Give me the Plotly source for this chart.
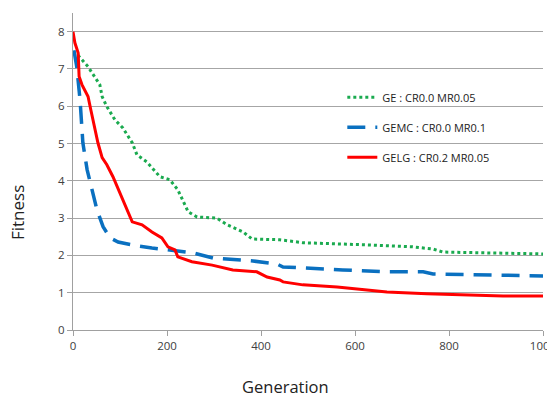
import plotly.graph_objects as go

ge_x = [0, 8, 32, 57, 62, 72, 89, 106, 126, 136, 157, 185, 206, 223, 245, 264, 306, 328, 362, 381, 440, 489, 632, 723, 766, 787, 1000]
ge_y = [7.45, 7.4, 7.06, 6.58, 6.26, 5.99, 5.64, 5.42, 5.02, 4.70, 4.51, 4.11, 4.03, 3.76, 3.17, 3.03, 3.0, 2.82, 2.63, 2.44, 2.42, 2.34, 2.28, 2.23, 2.17, 2.09, 2.04]

gemc_x = [2, 8, 15, 21, 30, 40, 51, 64, 79, 96, 126, 168, 217, 255, 298, 383, 434, 447, 574, 668, 745, 766, 1000]
gemc_y = [7.5, 7.06, 6.17, 5.02, 4.3, 3.76, 3.22, 2.77, 2.47, 2.36, 2.28, 2.2, 2.12, 2.07, 1.93, 1.85, 1.77, 1.69, 1.61, 1.56, 1.56, 1.50, 1.45]

gelg_x = [0, 4, 11, 13, 19, 32, 38, 47, 53, 62, 72, 85, 94, 104, 115, 126, 147, 168, 189, 202, 217, 223, 253, 296, 340, 391, 413, 440, 447, 489, 562, 632, 668, 753, 915, 1000]
gelg_y = [8.0, 7.7, 7.43, 6.8, 6.58, 6.26, 5.9, 5.37, 5.02, 4.62, 4.43, 4.11, 3.84, 3.57, 3.22, 2.9, 2.82, 2.63, 2.47, 2.23, 2.15, 1.96, 1.83, 1.74, 1.61, 1.56, 1.42, 1.34, 1.29, 1.21, 1.15, 1.07, 1.02, 0.97, 0.91, 0.91]

names = ["GE : CR0.0 MR0.05", "GEMC : CR0.0 MR0.1", "GELG : CR0.2 MR0.05"]
x_ticks = [0, 200, 400, 600, 800, 1000]
y_ticks = [0, 1, 2, 3, 4, 5, 6, 7, 8]
x_title = "Generation"
y_title = "Fitness"

fig = go.Figure()
fig.add_trace(go.Scatter(x=ge_x, y=ge_y, mode="lines", name=names[0], legendgroup="a",
                         line=dict(color="#1AAA4F", width=3, dash="dot")))
fig.add_trace(go.Scatter(x=gemc_x, y=gemc_y, mode="lines", name=names[1], legendgroup="b",
                         line=dict(color="#0A70C0", width=3.5, dash="18px,10px")))
fig.add_trace(go.Scatter(x=gelg_x, y=gelg_y, mode="lines", name=names[2], legendgroup="c",
                         line=dict(color="#FF0000", width=3)))

font = "Open Sans, Liberation Sans, sans-serif"
fig.update_layout(
    width=547, height=386,
    margin=dict(l=65, r=12, t=5, b=64),
    plot_bgcolor="white", paper_bgcolor="white",
    font=dict(family=font, color="#404040", size=11),
    legend=dict(x=0.573, y=0.78, xanchor="left", yanchor="top",
                bgcolor="rgba(0,0,0,0)", font=dict(size=11, color="#222222"),
                tracegroupgap=11),
    xaxis=dict(range=[0, 1000], tickvals=x_ticks, showgrid=False, zeroline=False,
               showline=True, linecolor="#a0a0a0", linewidth=1, automargin=False,
               ticks="outside", ticklen=5, tickcolor="#a0a0a0", ticklabeloverflow="allow",
               tickfont=dict(size=11.5)),
    yaxis=dict(range=[0, 8.5], tickvals=y_ticks, showgrid=True, gridcolor="#a6a6a6", gridwidth=1,
               zeroline=False, showline=True, linecolor="#a0a0a0", linewidth=1, automargin=False,
               ticks="outside", ticklen=5, tickcolor="#a0a0a0", tickfont=dict(size=11.5)),
    annotations=[
        dict(text=x_title, xref="paper", yref="paper", x=(285 - 73) / 470, y=-(386 - 330) / 317,
             xanchor="center", yanchor="middle", showarrow=False,
             font=dict(size=16.5, color="#222222")),
        dict(text=y_title, xref="paper", yref="paper", x=-(73 - 17) / 470, y=(330 - 213) / 317,
             xanchor="center", yanchor="middle", showarrow=False, textangle=-90,
             font=dict(size=17, color="#222222")),
    ],
)

fig.write_html("out.html")
